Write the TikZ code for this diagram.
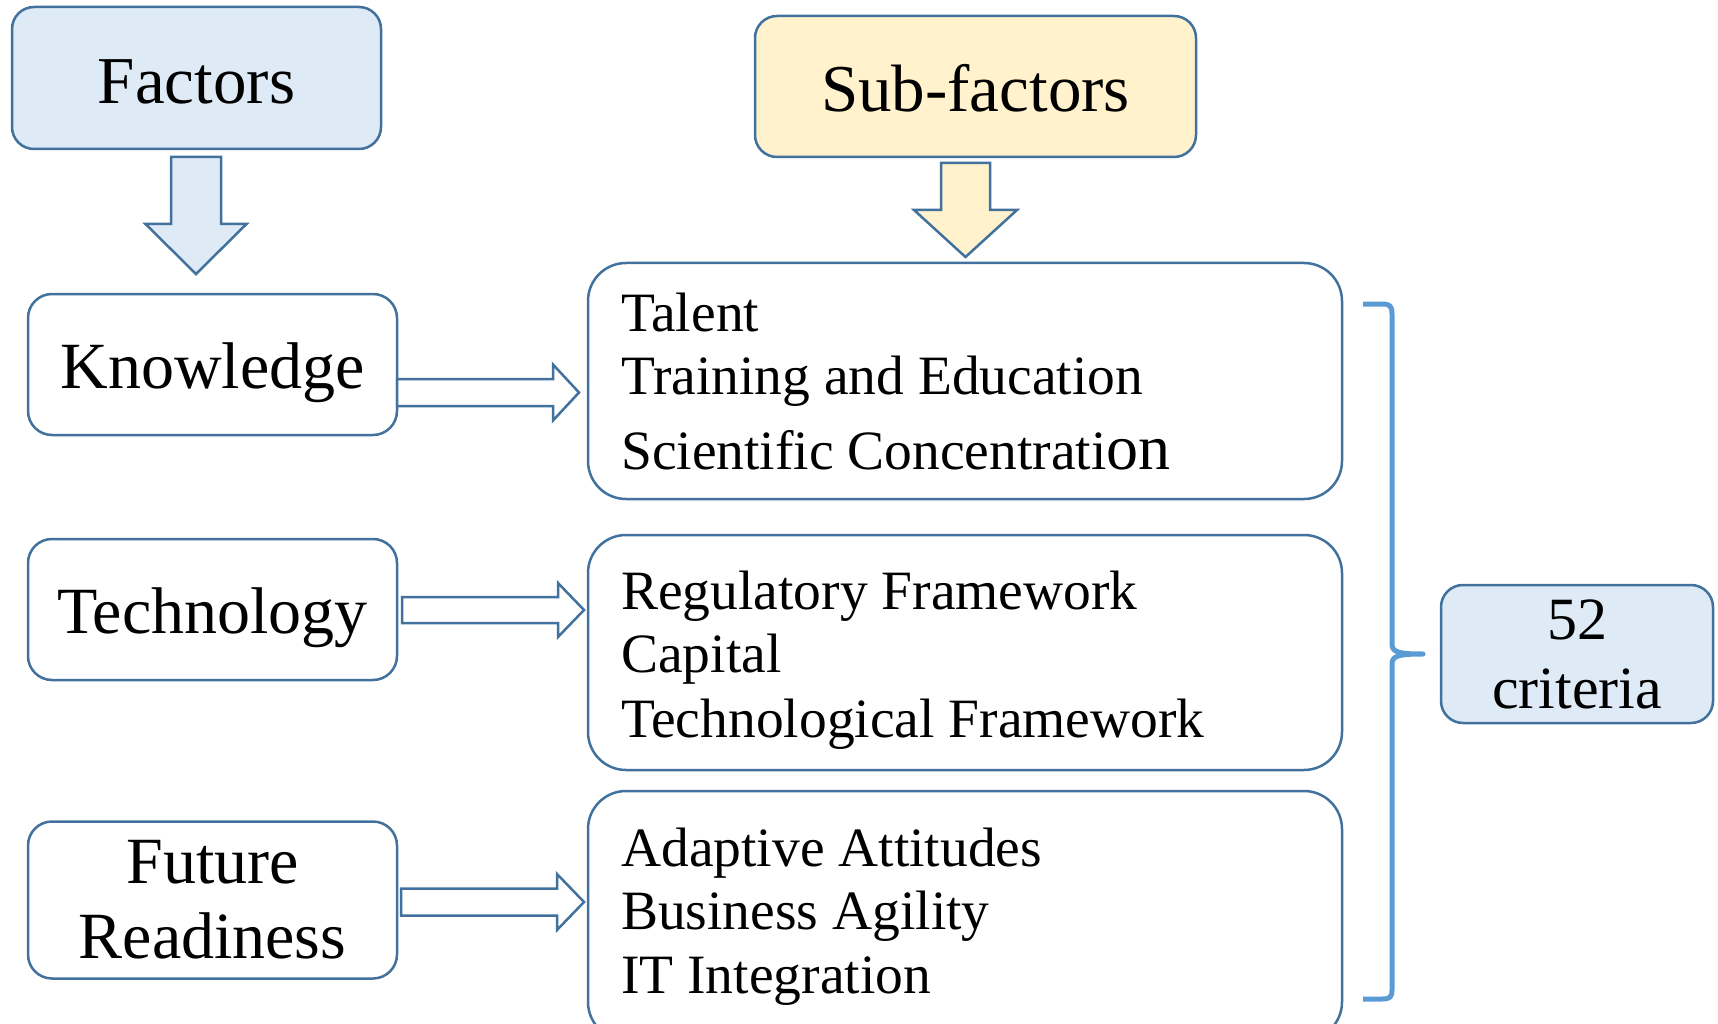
\documentclass[tikz,border=0pt]{standalone}
\usepackage{fontspec}
\setmainfont{Liberation Serif}
\usetikzlibrary{calc}
\definecolor{edgeblue}{HTML}{41719C}
\definecolor{fillblue}{HTML}{DEEBF7}
\definecolor{fillyellow}{HTML}{FFF2CC}
\definecolor{bracecol}{HTML}{5B9BD5}

% block arrow pointing right: start, tip, half shaft, half head, head length, fill
\newcommand\rightblock[6]{%
  \draw[arrowline,fill=#6] let \p1=(#1), \p2=(#2) in
    (\x1,\y1+#3) -- (\x2-#5,\y1+#3) -- (\x2-#5,\y1+#4) -- (\x2,\y2)
    -- (\x2-#5,\y1-#4) -- (\x2-#5,\y1-#3) -- (\x1,\y1-#3) -- cycle;}
% block arrow pointing down: start, tip, half shaft, half head, head length, fill
\newcommand\downblock[6]{%
  \draw[arrowline,fill=#6] let \p1=(#1), \p2=(#2) in
    (\x1-#3,\y1) -- (\x1-#3,\y2+#5) -- (\x1-#4,\y2+#5) -- (\x2,\y2)
    -- (\x1+#4,\y2+#5) -- (\x1+#3,\y2+#5) -- (\x1+#3,\y1) -- cycle;}

\begin{document}
\begin{tikzpicture}[x=1pt,y=-1pt,
  box/.style={draw=edgeblue,line width=2.5pt,rounded corners=#1,inner sep=0pt},
  box/.default=22pt,
  arrowline/.style={draw=edgeblue,line width=2.5pt,line join=miter},
  headtext/.style={font=\fontsize{67}{75}\selectfont,text height=51pt,text depth=0pt},
  factortext/.style={font=\fontsize{66}{75}\selectfont,text height=48pt,text depth=0pt},
  itemtext/.style={font=\fontsize{55.5}{64}\selectfont,anchor=base west,inner sep=0pt},
]
\useasboundingbox (0,0) rectangle (1718,1024);
\clip (0,0) rectangle (1718,1024);

% column headings
\node[box, fill=fillblue, minimum width=369pt, minimum height=142pt, headtext]
  (factors) at (196.5,78) {Factors};
\node[box, fill=fillyellow, minimum width=441pt, minimum height=141pt, headtext]
  (subfactors) at (975.5,86.5) {Sub-factors};

% factor boxes
\node[box=24pt, fill=white, minimum width=369pt, minimum height=141pt, factortext]
  (know) at (212.5,364.5) {Knowledge};
\node[box=24pt, fill=white, minimum width=369pt, minimum height=141pt, factortext]
  (tech) at (212.5,609.5) {Technology};
\node[box=24pt, fill=white, minimum width=369pt, minimum height=157pt, align=center,
  font=\fontsize{66}{75}\selectfont]
  (future) at (212.5,900) {Future\\Readiness};

% sub-factor boxes
\node[box=38pt, minimum width=754pt, minimum height=236pt] (sub1) at (965,381) {};
\node[box=38pt, minimum width=754pt, minimum height=235pt] (sub2) at (965,652.5) {};
\node[box=38pt, minimum width=754pt, minimum height=249pt] (sub3) at (965,915.5) {};

% sub-factor lists
\node[itemtext] (s11) at (621,331) {Talent};
\node[itemtext] (s12) at (621,394) {Training and Education};
\node[itemtext] (s13) at (621,469) {Scientific Concentrati{\fontsize{64}{64}\selectfont on}};
\node[itemtext] (s21) at (621,609) {Regulatory Framework};
\node[itemtext] (s22) at (621,672) {Capital};
\node[itemtext] (s23) at (621,737) {Technological Framework};
\node[itemtext] (s31) at (621,866) {Adaptive Attitudes};
\node[itemtext] (s32) at (621,929) {Business Agility};
\node[itemtext] (s33) at (621,993) {IT Integration};

% total
\node[box=22pt, fill=fillblue, minimum width=272pt, minimum height=138pt, align=center,
  font=\fontsize{60}{69}\selectfont]
  (crit) at (1577,654) {52\\criteria};

% heading arrows
\coordinate (fa) at (196,157);   \coordinate (fb) at (196,274);
\coordinate (sa) at (965.5,163); \coordinate (sb) at (965.5,257);
\downblock{fa}{fb}{25pt}{50.5pt}{50pt}{fillblue}
\downblock{sa}{sb}{24.5pt}{51.5pt}{47pt}{fillyellow}

% factor to sub-factor arrows
\coordinate (ka) at (397,392.5); \coordinate (kb) at (579,392.5);
\coordinate (ta) at (402,610);   \coordinate (tb) at (584,610);
\coordinate (ra) at (401,902);   \coordinate (rb) at (584,902);
\rightblock{ka}{kb}{13.5pt}{28pt}{26pt}{white}
\rightblock{ta}{tb}{13pt}{27pt}{26pt}{white}
\rightblock{ra}{rb}{13.5pt}{28pt}{27pt}{white}

% brace grouping all sub-factors
\draw[bracecol, line width=5pt, line join=round]
  (1363,304) -- (1382,304) .. controls (1390,304) and (1392,306) .. (1392,314)
  -- (1392,644) .. controls (1392,652) and (1398,654) .. (1423,654)
  .. controls (1398,654) and (1392,656) .. (1392,664)
  -- (1392,990) .. controls (1392,997) and (1390,999) .. (1382,999) -- (1363,999);
\end{tikzpicture}
\end{document}
